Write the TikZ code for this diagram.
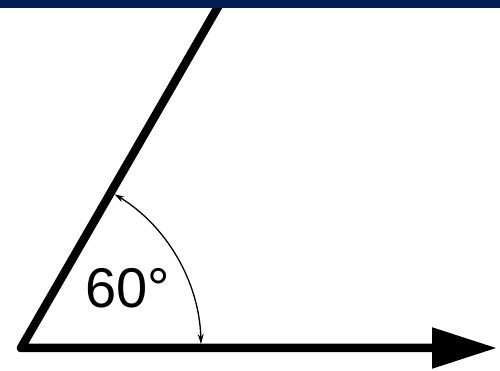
\documentclass[tikz,border=0pt]{standalone}
\usepackage{fontspec}
\setmainfont{Liberation Sans}
\usetikzlibrary{calc, arrows.meta}
\definecolor{topbar}{RGB}{0,28,80}

\begin{document}
\begin{tikzpicture}[x=1pt,y=1pt]
			\useasboundingbox (0,0) rectangle (500,371);
			\clip (0,0) rectangle (500,371);
			\coordinate (O) at (21,23);
			\coordinate (x) at (497,23);
			\coordinate (y) at ($(O)+(60:420)$);
			\coordinate (a) at ($(O)+(1.3:180)$);
			\draw[line width=8.5pt, line join=round, -{Triangle[length=65pt,width=39pt]}] (y) -- (O) -- (x);
			\draw[line width=1.3pt, {Stealth[length=10pt,width=6pt]}-{Stealth[length=10pt,width=6pt]}] (a) arc[start angle=1.3, end angle=58.7, radius=180];
			\node[font=\fontsize{56}{56}\selectfont] (label) at (128,83) {60°};
			\fill[topbar] (0,363) rectangle (500,371);
		\end{tikzpicture}
\end{document}
